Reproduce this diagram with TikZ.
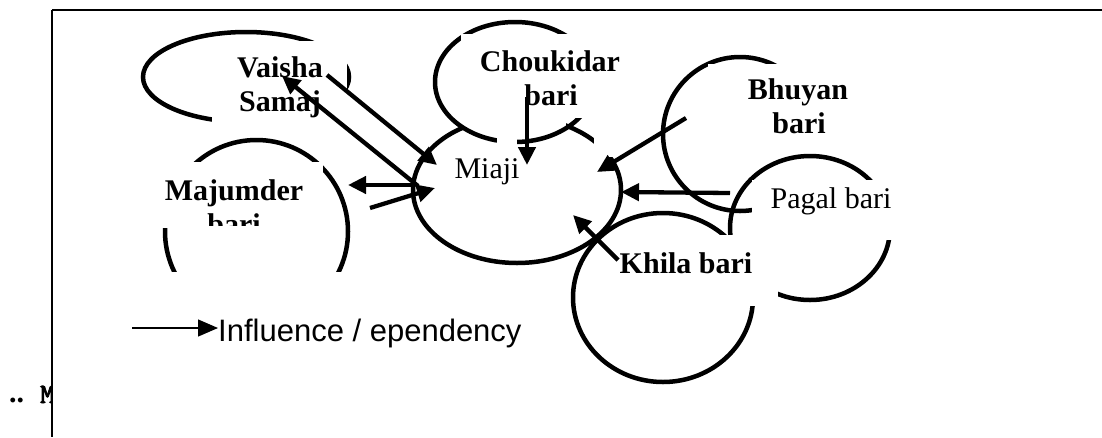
\documentclass[tikz,border=0pt]{standalone}
\usepackage{fontspec}
\setmainfont{Liberation Serif}
\newfontfamily\arialf{Liberation Sans}
\newfontfamily\monob{Latin Modern Mono}[FakeBold=3]
\usetikzlibrary{arrows.meta}
\begin{document}
\begin{tikzpicture}[x=1pt,y=-1pt,
  shp/.style={line width=4.5pt},
  maskbox/.style={fill=white},
  lbl/.style={anchor=base, inner sep=0pt, font=\fontsize{30}{34}\selectfont},
  blbl/.style={anchor=base, inner sep=0pt, font=\fontsize{30}{34}\selectfont\bfseries},
  infl/.style={line width=4.3pt, -{Triangle[length=18pt,width=17pt]}},
]
\useasboundingbox (0,0) rectangle (1102,437);

% bottom-left fragment
\node[anchor=base west, inner sep=0pt, font=\fontsize{30}{34}\selectfont\bfseries] (dots) at (9,402) {..};
\begin{scope}
  \clip (30,370) rectangle (51,437);
  \node[anchor=base west, inner sep=0pt, font=\monob\fontsize{28}{30}\selectfont] (mfrag) at (40,403) {M};
\end{scope}

% frame
\coordinate (fTL) at (52,10);
\coordinate (fTR) at (1102,10);
\coordinate (fBL) at (52,437);
\draw[line width=2pt] (fTL) -- (fTR);
\draw[line width=1.6pt] (fTL) -- (fBL);

% Vaisha Samaj
\draw[shp] (246,77) ellipse [x radius=103pt, y radius=45pt];
\fill[maskbox] (212,41) rectangle (347,130);

% Majumder bari
\begin{scope}
  \clip (100,100) rectangle (400,271);
  \draw[shp] (256.5,231.5) circle [radius=91.5pt];
\end{scope}
\fill[maskbox] (158,162) rectangle (323,228);

% Miaji
\draw[shp] (517,190) ellipse [x radius=104pt, y radius=73pt];
\fill[maskbox] (463,108) rectangle (566,133);
\fill[maskbox] (594,138) rectangle (618,157);

% Choukidar bari
\draw[shp] (515,82) ellipse [x radius=80pt, y radius=60pt];
\fill[maskbox] (461,34) rectangle (600,118);
\fill[maskbox] (497,128) rectangle (517,150);

% Bhuyan bari
\draw[shp] (740,134) circle [radius=77pt];
\fill[maskbox] (708,64) rectangle (905,184);

% Pagal bari
\draw[shp] (810,228) ellipse [x radius=80pt, y radius=72pt];
\fill[maskbox] (752,180) rectangle (893,240);

% Khila bari
\draw[shp] (663,297.5) ellipse [x radius=90pt, y radius=84.5pt];
\fill[maskbox] (615,235) rectangle (778,306);

% labels
\node[blbl] (vaishaA) at (280,77) {Vaisha};
\node[blbl] (vaishaB) at (280,111) {Samaj};
\node[blbl] (majA) at (234,200) {Majumder};
\begin{scope}
  \clip (150,162) rectangle (330,225);
  \node[blbl] (majB) at (234,234) {bari};
\end{scope}
\node[lbl] (miaji) at (487,178) {Miaji};
\node[blbl] (choukA) at (550,71) {Choukidar};
\node[blbl] (choukB) at (551,105) {bari};
\node[blbl] (bhuyA) at (798,99) {Bhuyan};
\node[blbl] (bhuyB) at (799,133) {bari};
\node[lbl] (pagal) at (831,208) {Pagal bari};
\node[blbl] (khila) at (686,273) {Khila bari};

% connector end points
\coordinate (aS) at (327,75);   \coordinate (aE) at (437,165);
\coordinate (bS) at (418,186);  \coordinate (bE) at (282,76);
\coordinate (cS) at (415,185);  \coordinate (cE) at (348,185);
\coordinate (dS) at (370,208);  \coordinate (dE) at (435,188);
\coordinate (eS) at (527,97);   \coordinate (eE) at (527,165);
\coordinate (fS) at (686,118);  \coordinate (fE) at (597,172);
\coordinate (gS) at (730,193);  \coordinate (gE) at (621,192);
\coordinate (hS) at (618,260);  \coordinate (hE) at (573,215);

\draw[infl] (aS) -- (aE);
\draw[infl] (bS) -- (bE);
\draw[infl] (cS) -- (cE);
\draw[infl] (dS) -- (dE);
\draw[infl] (eS) -- (eE);
\draw[infl] (fS) -- (fE);
\draw[infl] (gS) -- (gE);
\draw[infl] (hS) -- (hE);

% legend
\node[anchor=base west, inner sep=0pt, font=\arialf\fontsize{31}{36}\selectfont] (legtxt) at (218,341) {Influence / ependency};
\coordinate (legS) at (132,328);
\draw[line width=1.2pt, -{Triangle[length=20pt,width=17pt]}] (legS) -- (legtxt.west |- legS);
\end{tikzpicture}
\end{document}
